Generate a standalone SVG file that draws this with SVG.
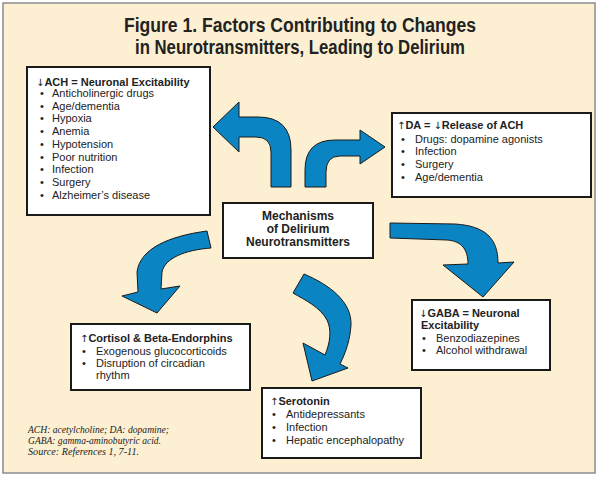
<svg xmlns="http://www.w3.org/2000/svg" width="600" height="479" viewBox="0 0 600 479">
<style>
.frame{fill:#fdf0d2;stroke:#8c8c8c;stroke-width:1.5}
.box{fill:#fff;stroke:#1a1a1a;stroke-width:2}
.arr{fill:#0b84c4;stroke:#1a1a1a;stroke-width:1;stroke-linejoin:round}
text{font-family:"Liberation Sans",Arial,sans-serif;fill:#222;font-size:11px}
.h{font-weight:bold}
.g{font-weight:normal;font-family:"DejaVu Sans",sans-serif;font-size:10px}
.title{font-size:20px;font-weight:bold;text-anchor:middle}
.ctr{font-size:12px;font-weight:bold;text-anchor:middle}
.note{font-family:"Liberation Serif","Times New Roman",serif;font-style:italic;font-size:10.5px}
</style>
<rect x="0" y="0" width="600" height="479" fill="#fff"/>
<rect class="frame" x="3" y="3" width="592" height="470"/>
<g id="title">
<text class="title" x="300" y="32" textLength="352" lengthAdjust="spacingAndGlyphs">Figure 1. Factors Contributing to Changes</text>
<text class="title" x="300" y="54" textLength="330" lengthAdjust="spacingAndGlyphs">in Neurotransmitters, Leading to Delirium</text>
</g>
<g id="connectors">
<path class="arr" d="M271,187 L271,152 Q271,137 256,137 L239,137 L239,152 L213,127 L239,102 L239,117 L258,117 Q291,117 291,150 L291,187 Z"/>
<path class="arr" d="M305,187 L305,170 Q305,140 335,140 L360,140 L360,130 L385,147 L360,164 L360,156 L340,156 Q326,156 326,172 L326,187 Z"/>
<path class="arr" d="M207,231 L211,248 C185,250 165,258 162,272 L161,289 L180,286 L157,313 L122,296 L138,292 L137,272 C140,248 170,236 207,231 Z"/>
<path class="arr" d="M304,274 C330,285 352,302 351,325 C350,340 346,352 340,364 L348,368 L312,381 L303,343 L325,355 C330,343 332,330 327,320 C320,307 305,300 293,293 Z"/>
<path class="arr" d="M390,223 L455,224 C485,226 498,238 498,263 L514,262 L483,297 L443,265 L468,264 C468,250 462,241 447,240 L390,238 Z"/>
</g>
<g id="ach">
<rect class="box" x="27" y="67" width="183" height="148"/>
<text x="36" y="86" class="h"><tspan class="g">↓</tspan>ACH = Neuronal Excitability</text>
<text x="40" y="97">•</text><text x="52" y="97">Anticholinergic drugs</text>
<text x="40" y="110">•</text><text x="52" y="110">Age/dementia</text>
<text x="40" y="122">•</text><text x="52" y="122">Hypoxia</text>
<text x="40" y="135">•</text><text x="52" y="135">Anemia</text>
<text x="40" y="148">•</text><text x="52" y="148">Hypotension</text>
<text x="40" y="161">•</text><text x="52" y="161">Poor nutrition</text>
<text x="40" y="173">•</text><text x="52" y="173">Infection</text>
<text x="40" y="186">•</text><text x="52" y="186">Surgery</text>
<text x="40" y="199">•</text><text x="52" y="199">Alzheimer’s disease</text>
</g>
<g id="da">
<rect class="box" x="392" y="113" width="199" height="84"/>
<text x="397" y="129" class="h"><tspan class="g">↑</tspan>DA = <tspan class="g">↓</tspan>Release of ACH</text>
<text x="401" y="143">•</text><text x="415" y="143">Drugs: dopamine agonists</text>
<text x="401" y="155">•</text><text x="415" y="155">Infection</text>
<text x="401" y="168">•</text><text x="415" y="168">Surgery</text>
<text x="401" y="181">•</text><text x="415" y="181">Age/dementia</text>
</g>
<g id="center">
<rect class="box" x="223" y="203" width="150" height="55"/>
<text class="ctr" x="298" y="220">Mechanisms</text>
<text class="ctr" x="298" y="233">of Delirium</text>
<text class="ctr" x="298" y="246">Neurotransmitters</text>
</g>
<g id="cortisol">
<rect class="box" x="71" y="324" width="179" height="66"/>
<text x="80" y="342" class="h"><tspan class="g">↑</tspan>Cortisol &amp; Beta-Endorphins</text>
<text x="82" y="355">•</text><text x="96" y="355">Exogenous glucocorticoids</text>
<text x="82" y="367">•</text><text x="96" y="367">Disruption of circadian</text>
<text x="96" y="379">rhythm</text>
</g>
<g id="gaba">
<rect class="box" x="412" y="300" width="138" height="70"/>
<text x="419" y="317" class="h"><tspan class="g">↓</tspan>GABA = Neuronal</text>
<text x="421" y="329" class="h">Excitability</text>
<text x="422" y="342">•</text><text x="436" y="342">Benzodiazepines</text>
<text x="422" y="354">•</text><text x="436" y="354">Alcohol withdrawal</text>
</g>
<g id="serotonin">
<rect class="box" x="262" y="388" width="159" height="70"/>
<text x="270" y="405" class="h"><tspan class="g">↑</tspan>Serotonin</text>
<text x="272" y="418">•</text><text x="286" y="418">Antidepressants</text>
<text x="272" y="431">•</text><text x="286" y="431">Infection</text>
<text x="272" y="444">•</text><text x="286" y="444">Hepatic encephalopathy</text>
</g>
<g id="footnote">
<text class="note" x="28" y="433" textLength="141" lengthAdjust="spacingAndGlyphs">ACH: acetylcholine; DA: dopamine;</text>
<text class="note" x="28" y="444" textLength="133" lengthAdjust="spacingAndGlyphs">GABA: gamma-aminobutyric acid.</text>
<text class="note" x="28" y="455" textLength="111" lengthAdjust="spacingAndGlyphs">Source: References 1, 7-11.</text>
</g>
</svg>
